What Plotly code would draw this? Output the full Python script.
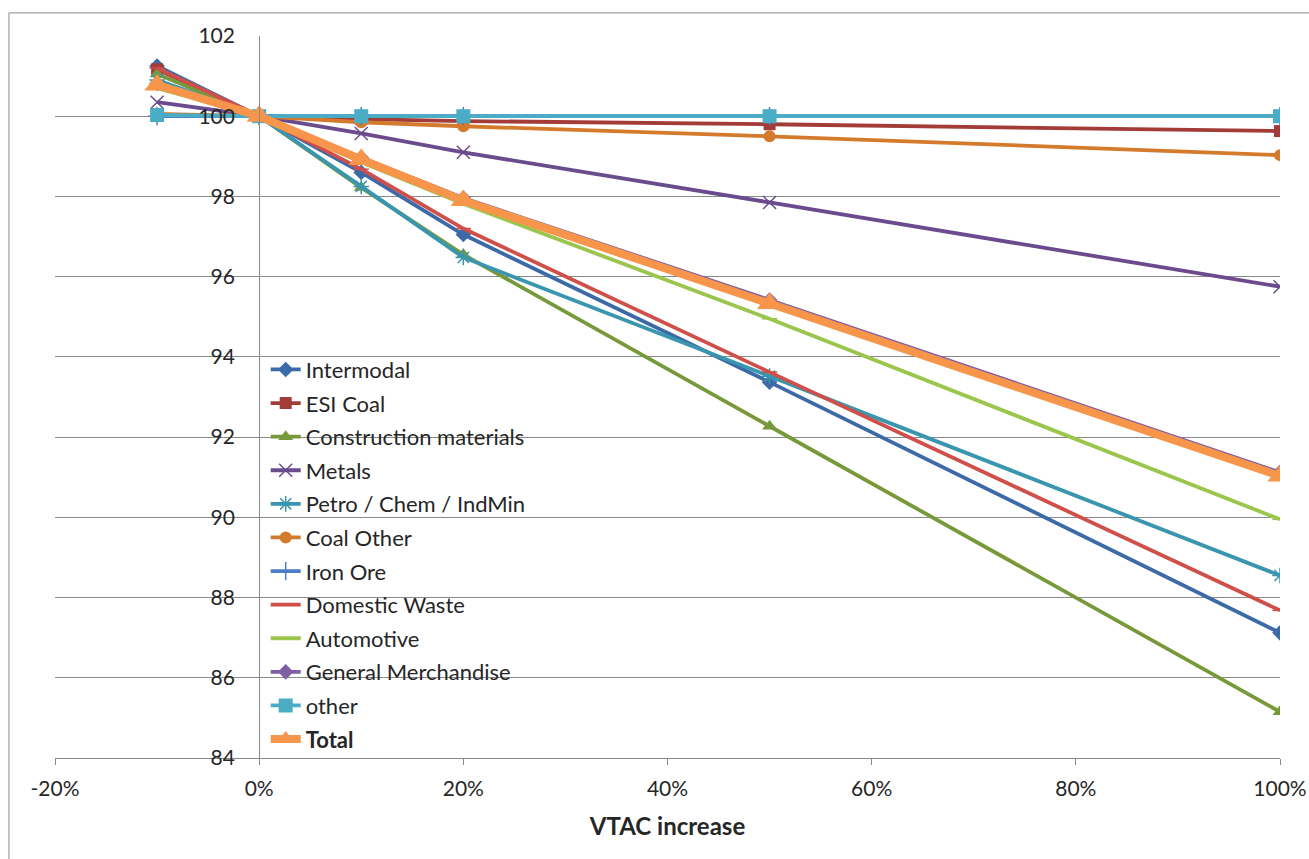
import plotly.graph_objects as go

# VTAC increase scenarios (fraction) and index values per commodity
vtac = [-0.10, 0.0, 0.10, 0.20, 0.50, 1.00]

intermodal = [101.25, 100.0, 98.60, 97.05, 93.37, 87.12]
esi_coal = [101.17, 100.0, 99.93, 99.88, 99.80, 99.63]
construction = [101.05, 100.0, 98.22, 96.55, 92.27, 85.15]
metals = [100.35, 100.0, 99.57, 99.10, 97.85, 95.75]
petro = [100.90, 100.0, 98.25, 96.48, 93.52, 88.55]
coal_other = [100.06, 100.0, 99.85, 99.75, 99.50, 99.03]
iron_ore = [100.0, 100.0, 100.0, 100.0, 100.0, 100.0]
domestic_waste = [101.20, 100.0, 98.68, 97.20, 93.62, 87.68]
automotive = [100.70, 100.0, 98.85, 97.82, 94.95, 89.95]
general_merch = [100.82, 100.0, 98.97, 97.96, 95.42, 91.12]
other = [100.03, 100.0, 100.0, 100.0, 100.0, 100.0]
total = [100.78, 100.0, 98.92, 97.90, 95.33, 91.03]

x_tickvals = [-0.2, 0.0, 0.2, 0.4, 0.6, 0.8, 1.0]
x_ticktext = ["-20%", "0%", "20%", "40%", "60%", "80%", "100%"]

series = [
    ("Intermodal", intermodal, "#3C6AA8", "diamond", 12, 3.8),
    ("ESI Coal", esi_coal, "#A33B38", "square", 12, 3.8),
    ("Construction materials", construction, "#78993A", "triangle-up", 13, 3.8),
    ("Metals", metals, "#6A4C8E", "x-thin-open", 13, 3.8),
    ("Petro / Chem / IndMin", petro, "#3996AE", "asterisk-open", 13, 3.8),
    ("Coal Other", coal_other, "#D47A2C", "circle", 12, 3.8),
    ("Iron Ore", iron_ore, "#4A7DC4", "cross-thin-open", 13, 3.8),
    ("Domestic Waste", domestic_waste, "#CF4F4B", "line-ew-open", 11, 3.8),
    ("Automotive", automotive, "#9BC64D", "line-ew-open", 11, 3.8),
    ("General Merchandise", general_merch, "#7E5FA6", "diamond", 12, 3.8),
    ("other", other, "#4BACC6", "square", 14, 3.8),
    ("<b>Total</b>", total, "#F7964A", "triangle-up", 22, 8),
]

fig = go.Figure()
for i, (name, vals, color, sym, size, lw) in enumerate(series):
    open_sym = sym.endswith("-open")
    fig.add_trace(go.Scatter(
        x=vtac, y=vals, name=name, mode="lines+markers",
        legendgroup=f"g{i:02d}",
        line=dict(color=color, width=lw),
        marker=dict(symbol=sym, size=size, color=color,
                    line=dict(color=color, width=1.5 if open_sym else 0)),
    ))

grid = "#898989"
font = "Lato, Carlito, Calibri, sans-serif"

fig.update_layout(
    width=1309, height=859,
    margin=dict(l=55, r=29, t=36, b=101),
    paper_bgcolor="white", plot_bgcolor="white",
    font=dict(family=font, size=21, color="#262626"),
    showlegend=True,
    legend=dict(x=0.172, y=0.567, xanchor="left", yanchor="top",
                bgcolor="rgba(255,255,255,0)", font=dict(size=22, color="#262626"),
                itemwidth=30, tracegroupgap=2, traceorder="grouped"),
    xaxis=dict(range=[-0.2, 1.0], tickvals=x_tickvals, ticktext=x_ticktext,
               automargin=False, showgrid=False, zeroline=False,
               showline=True, linecolor=grid, linewidth=1,
               ticks="outside", ticklen=6, tickcolor=grid,
               ticklabelstandoff=6, tickfont=dict(size=21),
               title=dict(text="<b>VTAC increase</b>", font=dict(size=24), standoff=18)),
    yaxis=dict(range=[84, 102], dtick=2, showgrid=True, gridcolor=grid, gridwidth=1,
               automargin=False, zeroline=False, showline=True, linecolor=grid, linewidth=1,
               anchor="free", position=1/6, ticks="", ticklabelstandoff=20,
               tickfont=dict(size=21)),
    shapes=[dict(type="rect", xref="paper", yref="paper",
                 x0=-0.0376, x1=1.03, y0=-0.15, y1=1.032,
                 line=dict(color="#8C8C8C", width=1), layer="below")],
)

fig.write_html("out.html")
